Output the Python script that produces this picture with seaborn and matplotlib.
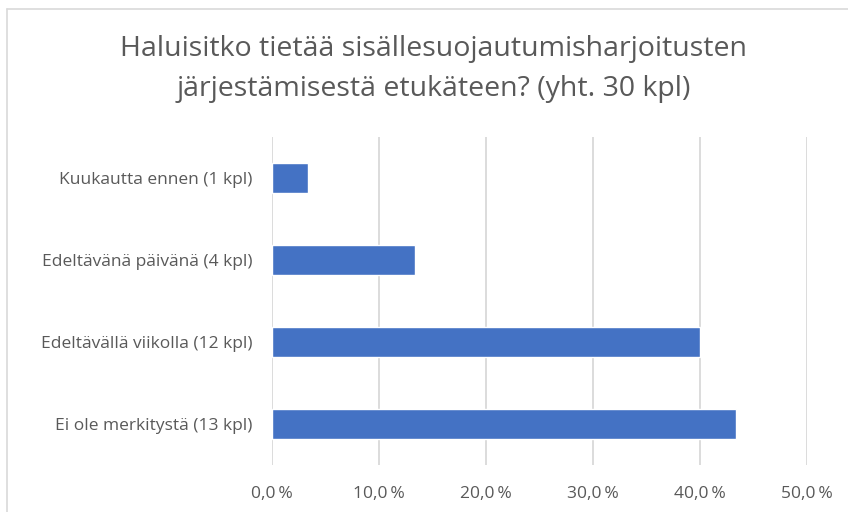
import matplotlib.pyplot as plt
import matplotlib.ticker as mticker
import pandas as pd
import seaborn as sns
from matplotlib.lines import Line2D

# data
categories = ['Kuukautta ennen (1 kpl)', 'Edeltävänä päivänä (4 kpl)',
              'Edeltävällä viikolla (12 kpl)', 'Ei ole merkitystä (13 kpl)']
counts = [1, 4, 12, 13]
total = 30
title = 'Haluisitko tietää sisällesuojautumisharjoitusten\njärjestämisestä etukäteen? (yht. 30 kpl)'
xticks = [0, 10, 20, 30, 40, 50]

df = pd.DataFrame({'cat': categories, 'pct': [c / total * 100 for c in counts]})

sns.set_style('white')
plt.rcParams['font.family'] = ['Open Sans', 'DejaVu Sans']

fig = plt.figure(figsize=(8.48, 5.12), dpi=100)
ax = fig.add_axes([272 / 848, 1 - 465 / 512, 535 / 848, 328 / 512])

sns.barplot(data=df, x='pct', y='cat', orient='h', color='#4472c4',
            saturation=1, width=0.36, ax=ax)

ax.set_xlim(0, 50)
ax.set_xticks(xticks)
ax.xaxis.set_major_formatter(mticker.FuncFormatter(lambda v, p: f'{v:.1f}'.replace('.', ',') + '\u2009%'))
ax.grid(axis='x', color='#d9d9d9', linewidth=1.3)
ax.set_axisbelow(True)
for s in ax.spines.values():
    s.set_visible(False)
ax.tick_params(axis='both', length=0, labelsize=12.5, colors='#595959')
ax.tick_params(axis='y', pad=14)
ax.tick_params(axis='x', pad=15)
ax.set_xlabel('')
ax.set_ylabel('')

fig.text(434 / 848, 1 - 69 / 512, title, ha='center', va='center', fontsize=20.5,
         color='#595959', linespacing=1.55)

# chart area border (top and left visible)
fig.add_artist(Line2D([6.5 / 848, 1], [1 - 8.5 / 512] * 2, color='#d9d9d9', lw=1.2))
fig.add_artist(Line2D([6.5 / 848] * 2, [0, 1 - 8.5 / 512], color='#d9d9d9', lw=1.2))

fig.savefig('out.png', dpi=100)
